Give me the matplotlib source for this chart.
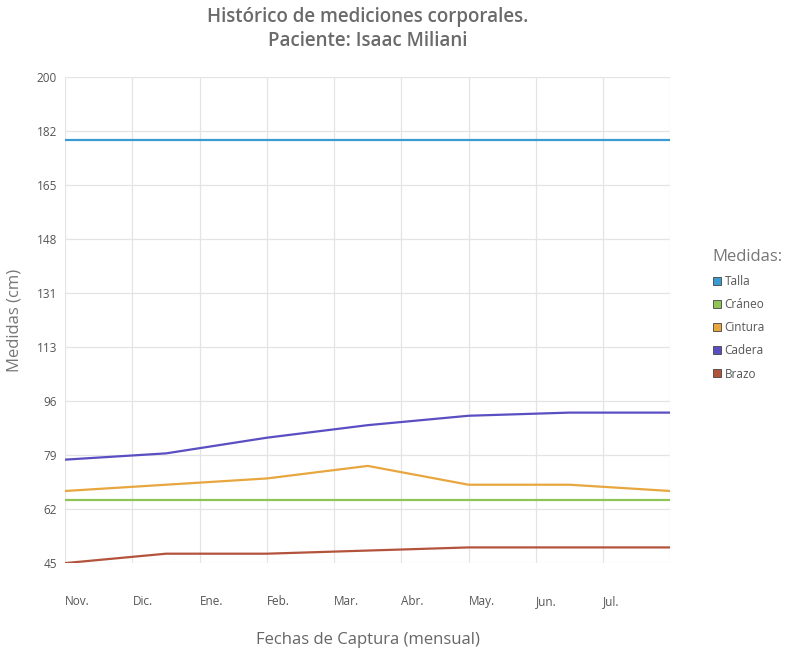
import numpy as np
import matplotlib.pyplot as plt
from matplotlib.lines import Line2D

# Data
meses = ['Nov.', 'Dic.', 'Ene.', 'Feb.', 'Mar.', 'Abr.', 'May.', 'Jun.', 'Jul.']
x_medicion = [0, 1.5, 3, 4.5, 6, 7.5, 9]  # fechas de captura en meses
talla = [180, 180, 180, 180, 180, 180, 180]
craneo = [65, 65, 65, 65, 65, 65, 65]
cintura = [68, 70, 72, 76, 70, 70, 68]
cadera = [78, 80, 85, 89, 92, 93, 93]
brazo = [45, 48, 48, 49, 50, 50, 50]
y_ticks = np.linspace(45, 200, 10)
y_labels = ['45', '62', '79', '96', '113', '131', '148', '165', '182', '200']

series = [
    ('Talla', talla, '#3c9ad2'),
    ('Cráneo', craneo, '#8fc456'),
    ('Cintura', cintura, '#e8a63f'),
    ('Cadera', cadera, '#5a4fc2'),
    ('Brazo', brazo, '#b4533c'),
]

plt.rcParams['font.family'] = ['Open Sans', 'DejaVu Sans']

fig = plt.figure(figsize=(7.96, 6.54), dpi=100)
ax = fig.add_axes([0.082, 0.139, 0.76, 0.743])

for nombre, valores, color in series:
    ax.plot(x_medicion, valores, color=color, lw=1.6, label=nombre)

ax.set_xlim(0, 9)
ax.set_ylim(45, 200)
ax.set_xticks(range(10))
ax.set_xticklabels(meses + [''], ha='left', fontsize=8.5, color='#555555')
ax.set_yticks(y_ticks)
ax.set_yticklabels(y_labels, fontsize=8.5, color='#555555')
ax.tick_params(axis='x', length=0, pad=23)
ax.tick_params(axis='y', length=0, pad=6)
ax.grid(True, color='#e4e4e4', lw=0.9)
ax.set_axisbelow(True)
for s in ax.spines.values():
    s.set_visible(False)

ax.set_ylabel('Medidas (cm)', fontsize=12, color='#777777', labelpad=10)
ax.set_xlabel('Fechas de Captura (mensual)', fontsize=12, color='#666666', labelpad=17)

fig.text(0.462, 0.99, 'Histórico de mediciones corporales.', ha='center', va='top',
         fontsize=13.5, fontweight='semibold', color='#6a6a6a')
fig.text(0.462, 0.952, 'Paciente: Isaac Miliani', ha='center', va='top',
         fontsize=13.5, fontweight='semibold', color='#6a6a6a')

handles = [Line2D([], [], marker='s', ls='none', markersize=6, markerfacecolor=c,
                  markeredgecolor='#444444', markeredgewidth=0.6) for _, _, c in series]
leg = fig.legend(handles, [n for n, _, _ in series], loc='upper left',
                 bbox_to_anchor=(0.882, 0.635), frameon=False, fontsize=8.5,
                 title='Medidas:', title_fontsize=12, handletextpad=0.2,
                 handlelength=0.8, labelspacing=0.85, alignment='left')
leg.get_title().set_color('#777777')
for t in leg.get_texts():
    t.set_color('#555555')

fig.savefig('out.png', dpi=100)
